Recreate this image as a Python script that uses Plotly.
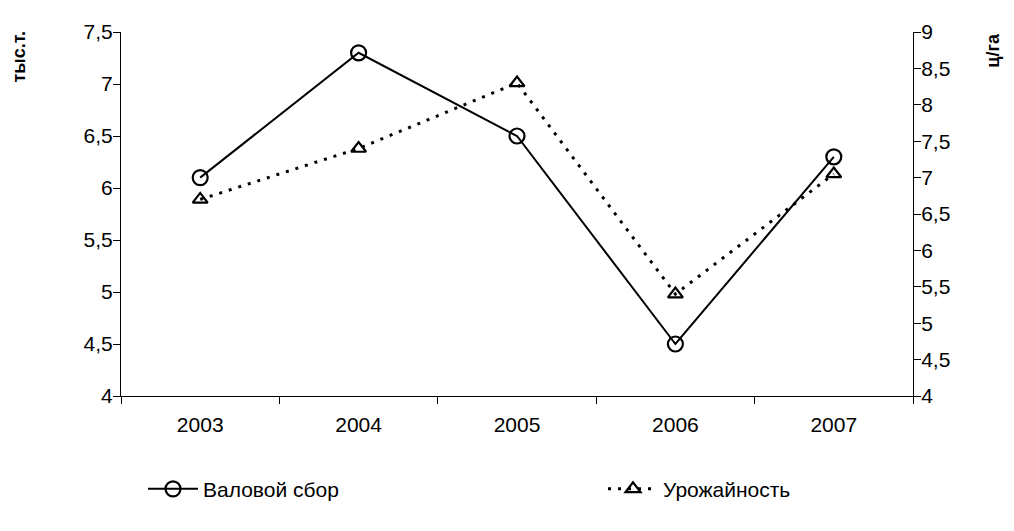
import plotly.graph_objects as go

years = ["2003", "2004", "2005", "2006", "2007"]
gross_harvest = [6.1, 7.3, 6.5, 4.5, 6.3]      # тыс.т. (left axis)
crop_yield = [6.7, 7.4, 8.3, 5.4, 7.05]        # ц/га (right axis)

left_ticks = [4, 4.5, 5, 5.5, 6, 6.5, 7, 7.5]
right_ticks = [4, 4.5, 5, 5.5, 6, 6.5, 7, 7.5, 8, 8.5, 9]


def fmt(v):
    return ("%g" % v).replace(".", ",")


FONT = "Liberation Sans, Arial, sans-serif"
L, R, T, B = 113, 109, 17, 143
W, H = 1014, 531
plot_w = W - L - R
plot_h = H - T - B


def px_to_paper(px, py):
    # px, py are page pixel coords (figure is offset by 8px body margin)
    fx, fy = px - 8, py - 8
    return (fx - L) / plot_w, (H - B - fy) / plot_h


fig = go.Figure()
fig.add_trace(go.Scatter(
    x=years, y=gross_harvest, name="Валовой сбор",
    mode="lines+markers",
    line=dict(color="black", width=2),
    marker=dict(symbol="circle-open", size=15, color="black", line=dict(width=2.2)),
    yaxis="y", legend="legend",
))
fig.add_trace(go.Scatter(
    x=years, y=crop_yield, name="Урожайность",
    mode="lines+markers",
    line=dict(color="black", width=3, dash="3px,7px"),
    marker=dict(symbol="triangle-up-open", size=13, color="black", line=dict(width=2.2)),
    yaxis="y2", legend="legend2",
))

lx1, ly = px_to_paper(143, 491)
lx2, _ = px_to_paper(603, 491)

tx1, ty1 = px_to_paper(19, 51)
tx2, ty2 = px_to_paper(993, 44)

fig.update_layout(
    width=W, height=H,
    margin=dict(l=L, r=R, t=T, b=B),
    paper_bgcolor="white", plot_bgcolor="white",
    font=dict(family=FONT, size=21, color="black"),
    showlegend=True,
    legend=dict(x=lx1, y=ly, xanchor="left", yanchor="middle",
                font=dict(size=21), bgcolor="rgba(0,0,0,0)", itemwidth=50),
    legend2=dict(x=lx2, y=ly, xanchor="left", yanchor="middle",
                 font=dict(size=21), bgcolor="rgba(0,0,0,0)", itemwidth=50),
    xaxis=dict(
        type="category", range=[-0.5, 4.5],
        showline=True, linecolor="black", linewidth=1,
        ticks="outside", ticklen=7, tickcolor="black", tickson="boundaries",
        showgrid=False, zeroline=False, ticklabelstandoff=10,
    ),
    yaxis=dict(
        range=[4, 7.5], tickvals=left_ticks, ticktext=[fmt(v) for v in left_ticks],
        showline=True, linecolor="black", linewidth=1,
        ticks="outside", ticklen=7, tickcolor="black",
        showgrid=False, zeroline=False, ticklabelstandoff=-4,
    ),
    yaxis2=dict(
        range=[4, 9], tickvals=right_ticks, ticktext=[fmt(v) for v in right_ticks],
        overlaying="y", side="right",
        showline=True, linecolor="black", linewidth=1,
        ticks="outside", ticklen=7, tickcolor="black",
        showgrid=False, zeroline=False, ticklabelstandoff=-4,
    ),
    annotations=[
        dict(text="<b>тыс.т.</b>", x=tx1, y=ty1, xref="paper", yref="paper",
             xanchor="center", yanchor="middle",
             showarrow=False, textangle=-90, font=dict(size=18)),
        dict(text="<b>ц/га</b>", x=tx2, y=ty2, xref="paper", yref="paper",
             xanchor="center", yanchor="middle",
             showarrow=False, textangle=-90, font=dict(size=18)),
    ],
)

fig.write_html("out.html")
